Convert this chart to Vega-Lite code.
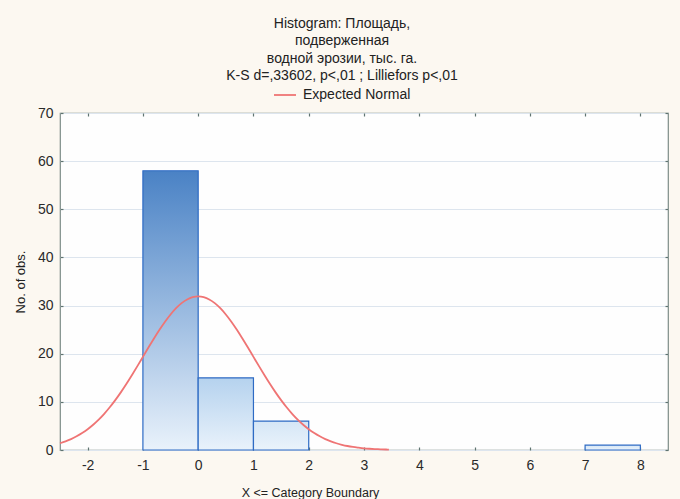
{
  "$schema": "https://vega.github.io/schema/vega-lite/v6.json",
  "width": 608,
  "height": 337,
  "autosize": {"type": "none"},
  "padding": {"left": 60, "top": 113, "right": 12, "bottom": 49},
  "background": "#fcf8f1",
  "config": {
    "font": "Liberation Sans",
    "view": {"fill": "#fefefe", "stroke": "#7d8c88", "strokeWidth": 1.2}
  },
  "title": {
    "text": ["Histogram: Площадь,", "подверженная", "водной эрозии, тыс. га.", "K-S d=,33602, p<,01 ; Lilliefors p<,01"],
    "anchor": "start",
    "align": "center",
    "dx": 282,
    "fontSize": 14,
    "fontWeight": "normal",
    "lineHeight": 17.5,
    "color": "#222222",
    "offset": 0,
    "frame": "group"
  },
  "resolve": {"axis": {"x": "independent", "y": "independent"}},
  "datasets": {
    "bars": [
      {"bin_start": -1, "bin_end": 0, "count": 58},
      {"bin_start": 0, "bin_end": 1, "count": 15},
      {"bin_start": 1, "bin_end": 2, "count": 6},
      {"bin_start": 7, "bin_end": 8, "count": 1}
    ],
    "normal": [
      {"x": -2.5, "y": 1.40}, {"x": -2.4, "y": 1.79}, {"x": -2.3, "y": 2.26}, {"x": -2.2, "y": 2.84},
      {"x": -2.1, "y": 3.52}, {"x": -2.0, "y": 4.32}, {"x": -1.9, "y": 5.25}, {"x": -1.8, "y": 6.31},
      {"x": -1.7, "y": 7.52}, {"x": -1.6, "y": 8.87}, {"x": -1.5, "y": 10.36}, {"x": -1.4, "y": 11.97},
      {"x": -1.3, "y": 13.70}, {"x": -1.2, "y": 15.53}, {"x": -1.1, "y": 17.42}, {"x": -1.0, "y": 19.35},
      {"x": -0.9, "y": 21.28}, {"x": -0.8, "y": 23.16}, {"x": -0.7, "y": 24.97}, {"x": -0.6, "y": 26.65},
      {"x": -0.5, "y": 28.15}, {"x": -0.4, "y": 29.45}, {"x": -0.3, "y": 30.50}, {"x": -0.2, "y": 31.27},
      {"x": -0.1, "y": 31.74}, {"x": 0.0, "y": 31.90}, {"x": 0.1, "y": 31.74}, {"x": 0.2, "y": 31.27},
      {"x": 0.3, "y": 30.50}, {"x": 0.4, "y": 29.45}, {"x": 0.5, "y": 28.15}, {"x": 0.6, "y": 26.65},
      {"x": 0.7, "y": 24.97}, {"x": 0.8, "y": 23.16}, {"x": 0.9, "y": 21.28}, {"x": 1.0, "y": 19.35},
      {"x": 1.1, "y": 17.42}, {"x": 1.2, "y": 15.53}, {"x": 1.3, "y": 13.70}, {"x": 1.4, "y": 11.97},
      {"x": 1.5, "y": 10.36}, {"x": 1.6, "y": 8.87}, {"x": 1.7, "y": 7.52}, {"x": 1.8, "y": 6.31},
      {"x": 1.9, "y": 5.25}, {"x": 2.0, "y": 4.32}, {"x": 2.1, "y": 3.52}, {"x": 2.2, "y": 2.84},
      {"x": 2.3, "y": 2.26}, {"x": 2.4, "y": 1.79}, {"x": 2.5, "y": 1.40}, {"x": 2.6, "y": 1.09},
      {"x": 2.7, "y": 0.83}, {"x": 2.8, "y": 0.63}, {"x": 2.9, "y": 0.48}, {"x": 3.0, "y": 0.35},
      {"x": 3.1, "y": 0.26}, {"x": 3.2, "y": 0.19}, {"x": 3.3, "y": 0.14}, {"x": 3.4, "y": 0.10},
      {"x": 3.45, "y": 0.09}
    ]
  },
  "layer": [
    {
      "data": {"name": "bars"},
      "transform": [{"filter": "datum.count >= 50"}],
      "mark": {
        "type": "rect",
        "stroke": "#2e6bc4",
        "strokeWidth": 1.2,
        "fill": {"gradient": "linear", "x1": 0, "y1": 0, "x2": 0, "y2": 1,
          "stops": [{"offset": 0, "color": "#4a82c5"}, {"offset": 1, "color": "#e9f2fb"}]}
      },
      "encoding": {
        "x": {"field": "bin_start", "type": "quantitative",
          "scale": {"domain": [-2.5, 8.5], "nice": false, "zero": false},
          "axis": {"values": [-2, -1, 0, 1, 2, 3, 4, 5, 6, 7, 8], "labelExpr": "'' + datum.value",
            "grid": false, "domain": false, "tickColor": "#5f7470", "tickSize": -3, "tickWidth": 1.2,
            "labelFontSize": 14, "labelColor": "#2a2a2a", "labelPadding": 11,
            "title": "X <= Category Boundary", "titleFontSize": 12.5, "titleFontWeight": "normal",
            "titleColor": "#222222", "titleX": 250, "titleY": 46, "titleAlign": "center",
            "titleBaseline": "alphabetic"}},
        "x2": {"field": "bin_end"},
        "y": {"field": "count", "type": "quantitative",
          "scale": {"domain": [0, 70], "nice": false},
          "axis": {"values": [0, 10, 20, 30, 40, 50, 60, 70], "grid": true, "gridColor": "#dde5ee",
            "domain": false, "tickColor": "#5f7470", "tickSize": -3, "tickWidth": 1.2,
            "labelFontSize": 14, "labelColor": "#2a2a2a", "labelPadding": 10,
            "title": "No. of obs.", "titleFontSize": 13, "titleFontWeight": "normal",
            "titleColor": "#222222", "titlePadding": 10}}
      }
    },
    {
      "data": {"name": "bars"},
      "transform": [{"filter": "datum.count >= 10 && datum.count < 50"}],
      "mark": {
        "type": "rect",
        "stroke": "#2e6bc4",
        "strokeWidth": 1.2,
        "fill": {"gradient": "linear", "x1": 0, "y1": 0, "x2": 0, "y2": 1,
          "stops": [{"offset": 0, "color": "#b5d2ee"}, {"offset": 1, "color": "#e9f2fb"}]}
      },
      "encoding": {
        "x": {"field": "bin_start", "type": "quantitative", "axis": null},
        "x2": {"field": "bin_end"},
        "y": {"field": "count", "type": "quantitative", "axis": null}
      }
    },
    {
      "data": {"name": "bars"},
      "transform": [{"filter": "datum.count < 10"}],
      "mark": {
        "type": "rect",
        "stroke": "#2e6bc4",
        "strokeWidth": 1.2,
        "fill": {"gradient": "linear", "x1": 0, "y1": 0, "x2": 0, "y2": 1,
          "stops": [{"offset": 0, "color": "#d5e6f6"}, {"offset": 1, "color": "#eaf3fb"}]}
      },
      "encoding": {
        "x": {"field": "bin_start", "type": "quantitative", "axis": null},
        "x2": {"field": "bin_end"},
        "y": {"field": "count", "type": "quantitative", "axis": null}
      }
    },
    {
      "data": {"name": "normal"},
      "mark": {"type": "line", "strokeWidth": 1.8, "interpolate": "monotone"},
      "encoding": {
        "x": {"field": "x", "type": "quantitative",
          "axis": {"orient": "top", "values": [-2, -1, 0, 1, 2, 3, 4, 5, 6, 7, 8], "labels": false,
            "grid": false, "domain": false, "title": null, "tickColor": "#5f7470", "tickSize": -3, "tickWidth": 1.2}},
        "y": {"field": "y", "type": "quantitative",
          "axis": {"orient": "right", "values": [0, 10, 20, 30, 40, 50, 60, 70], "labels": false,
            "grid": false, "domain": false, "title": null, "tickColor": "#5f7470", "tickSize": -3, "tickWidth": 1.2}},
        "color": {"datum": "Expected Normal", "type": "nominal",
          "scale": {"range": ["#ef7474"]},
          "legend": {"orient": "none", "legendX": 213, "legendY": -30, "title": null,
            "symbolType": "stroke", "symbolSize": 484, "symbolStrokeWidth": 1.8,
            "labelFontSize": 14, "labelColor": "#222222", "labelOffset": 6, "padding": 0}}
      }
    }
  ]
}
